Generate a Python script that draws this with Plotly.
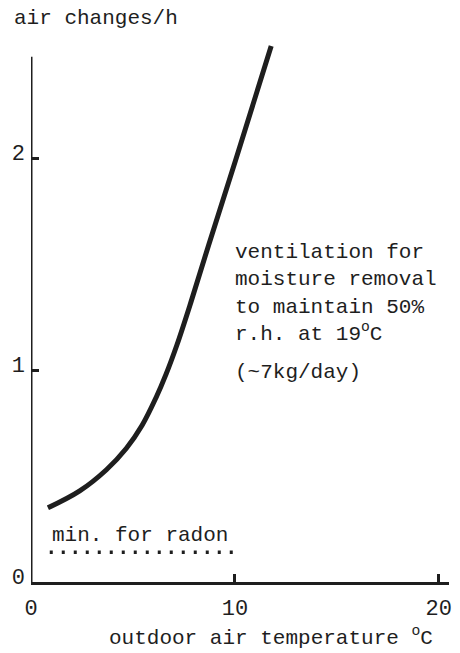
import plotly.graph_objects as go

# outdoor temperature (°C) vs. required air changes per hour
temp = [0.83, 2.39, 3.70, 4.67, 5.45, 6.13, 6.62, 7.16, 7.84, 8.71, 10.03, 11.78]
ach = [0.35, 0.43, 0.53, 0.63, 0.74, 0.87, 0.98, 1.12, 1.32, 1.59, 1.99, 2.53]

radon_x = [0.92, 9.93]
radon_level = 0.14

x_ticks = [0, 10, 20]
y_ticks = [0, 1, 2]

INK = "#1e1e1e"
FONT = "Liberation Mono"

fig = go.Figure()
fig.add_trace(go.Scatter(x=temp, y=ach, mode="lines",
                         line=dict(color=INK, width=5, shape="spline", smoothing=1.0),
                         hoverinfo="skip", showlegend=False))
fig.add_trace(go.Scatter(x=radon_x, y=[radon_level] * len(radon_x), mode="lines",
                         line=dict(color=INK, width=3.5, dash="3px,9px"),
                         hoverinfo="skip", showlegend=False))

fig.add_shape(type="line", xref="x", yref="y", x0=0, x1=0, y0=0, y1=2.48,
              line=dict(color=INK, width=3))

annos = [
    dict(text="air changes/h", xref="paper", yref="paper", x=-0.045, y=1.016,
         xanchor="left", yanchor="middle"),
    dict(text="ventilation for<br>moisture removal<br>to maintain 50%<br>r.h. at 19<sup>o</sup>C",
         xref="x", yref="y", x=9.93, y=1.36, xanchor="left", yanchor="middle", align="left"),
    dict(text="(~7kg/day)", xref="x", yref="y", x=9.93, y=0.99,
         xanchor="left", yanchor="middle"),
    dict(text="min. for radon", xref="x", yref="y", x=0.92, y=0.22,
         xanchor="left", yanchor="middle"),
    dict(text="outdoor air temperature <sup>o</sup>C", xref="paper", yref="paper",
         x=0.183, y=-0.099, xanchor="left", yanchor="middle"),
]
for a in annos:
    a.update(showarrow=False, font=dict(family=FONT, size=21, color=INK))
    fig.add_annotation(**a)

fig.update_layout(
    width=460, height=653,
    margin=dict(l=31, r=8, t=27, b=71),
    paper_bgcolor="white", plot_bgcolor="white",
    xaxis=dict(range=[0, 20.5], tickvals=x_ticks, ticktext=[str(v) for v in x_ticks],
               showgrid=False, zeroline=False, showline=True, linecolor=INK, linewidth=3,
               ticks="inside", ticklen=8, tickwidth=2.5, tickcolor=INK,
               ticklabelstandoff=4,
               tickfont=dict(family=FONT, size=22, color=INK)),
    yaxis=dict(range=[0, 2.62], tickvals=y_ticks, ticktext=[str(v) for v in y_ticks],
               showgrid=False, zeroline=False, showline=False,
               ticks="inside", ticklen=8, tickwidth=2.5, tickcolor=INK,
               ticklabelshift=-6, ticklabelstandoff=5,
               tickfont=dict(family=FONT, size=22, color=INK)),
)

fig.write_html("out.html")
